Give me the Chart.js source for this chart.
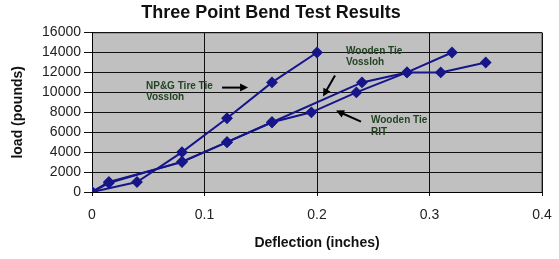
<!DOCTYPE html>
<html>
<head>
<meta charset="utf-8">
<script src="https://cdn.jsdelivr.net/npm/chart.js@4"></script>
<style>
  html, body { margin: 0; padding: 0; background: #fff; }
  #wrap { width: 559px; height: 259px; }
</style>
</head>
<body>
<div id="wrap"><canvas id="bendChart" width="559" height="259"></canvas></div>
<script>
// Datos (deflexión en pulgadas, carga en libras)
const npgDefl = [0, 0.04, 0.08, 0.12, 0.16, 0.2];
const npgLoad = [0, 1000, 4000, 7400, 11000, 14000];

const woodVosDefl = [0, 0.015, 0.08, 0.12, 0.16, 0.24, 0.28, 0.31, 0.35];
const woodVosLoad = [0, 1000, 3000, 5000, 7000, 11000, 12000, 12000, 13000];

const woodRitDefl = [0, 0.015, 0.08, 0.12, 0.16, 0.195, 0.235, 0.28, 0.32];
const woodRitLoad = [0, 900, 3050, 5000, 7000, 8000, 10000, 12000, 14000];

const xTicks = [0, 0.1, 0.2, 0.3, 0.4];
const yTicks = [0, 2000, 4000, 6000, 8000, 10000, 12000, 14000, 16000];

// Etiquetas con flecha (en unidades de los ejes)
const notes = [
  { lines: ["NP&G Tire Tie", "Vossloh"], x: 0.048, y: [10600, 9480], from: [0.1156, 10480], to: [0.1387, 10480] },
  { lines: ["Wooden Tie", "Vossloh"], x: 0.2258, y: [14090, 12990], from: [0.216, 11685], to: [0.2053, 9580] },
  { lines: ["Wooden Tie", "RIT"], x: 0.248, y: [7170, 5970], from: [0.2391, 7070], to: [0.2169, 8170] },
];

const toPoints = (xs, ys) => xs.map((x, i) => ({ x: x, y: ys[i] }));
const navy = "#16168a";

const serie = (label, xs, ys) => ({
  label: label,
  data: toPoints(xs, ys),
  showLine: true,
  borderColor: navy,
  backgroundColor: navy,
  borderWidth: 2,
  pointStyle: "rectRot",
  pointRadius: 4.5,
  pointHoverRadius: 4.5,
  tension: 0,
});

// Fondo gris del área de trazado
const plotBg = {
  id: "plotBg",
  beforeDraw(chart) {
    const { ctx, chartArea: a } = chart;
    ctx.save();
    ctx.fillStyle = "#c0c0c0";
    ctx.fillRect(a.left, a.top, a.right - a.left, a.bottom - a.top);
    ctx.strokeStyle = "#808080";
    ctx.lineWidth = 1;
    ctx.beginPath();
    ctx.moveTo(a.left, a.top + 0.5);
    ctx.lineTo(a.right - 0.5, a.top + 0.5);
    ctx.lineTo(a.right - 0.5, a.bottom);
    ctx.stroke();
    ctx.restore();
  },
};

// Textos y flechas
const arrowNotes = {
  id: "arrowNotes",
  afterDatasetsDraw(chart) {
    const { ctx } = chart;
    const sx = chart.scales.x, sy = chart.scales.y;
    ctx.save();
    ctx.font = "bold 10px Arial, 'Liberation Sans', sans-serif";
    ctx.textBaseline = "middle";
    ctx.textAlign = "left";
    notes.forEach((n) => {
      ctx.fillStyle = "#234423";
      const tx = sx.getPixelForValue(n.x);
      n.lines.forEach((t, i) => ctx.fillText(t, tx, sy.getPixelForValue(n.y[i])));
      const x1 = sx.getPixelForValue(n.from[0]), y1 = sy.getPixelForValue(n.from[1]);
      const x2 = sx.getPixelForValue(n.to[0]), y2 = sy.getPixelForValue(n.to[1]);
      const ang = Math.atan2(y2 - y1, x2 - x1);
      ctx.strokeStyle = "#000";
      ctx.lineWidth = 2;
      ctx.beginPath();
      ctx.moveTo(x1, y1);
      ctx.lineTo(x2 - 6 * Math.cos(ang), y2 - 6 * Math.sin(ang));
      ctx.stroke();
      ctx.fillStyle = "#000";
      ctx.beginPath();
      ctx.moveTo(x2, y2);
      ctx.lineTo(x2 - 8 * Math.cos(ang) + 4 * Math.sin(ang), y2 - 8 * Math.sin(ang) - 4 * Math.cos(ang));
      ctx.lineTo(x2 - 8 * Math.cos(ang) - 4 * Math.sin(ang), y2 - 8 * Math.sin(ang) + 4 * Math.cos(ang));
      ctx.closePath();
      ctx.fill();
    });
    ctx.restore();
  },
};

const fontFam = "Arial, 'Liberation Sans', sans-serif";

const ctxBend = document.getElementById("bendChart").getContext("2d");
const bendChart = new Chart(ctxBend, {
  type: "scatter",
  data: {
    datasets: [
      serie("NP&G Tire Tie Vossloh", npgDefl, npgLoad),
      serie("Wooden Tie Vossloh", woodVosDefl, woodVosLoad),
      serie("Wooden Tie RIT", woodRitDefl, woodRitLoad),
    ],
  },
  options: {
    responsive: false,
    animation: false,
    layout: { padding: { left: 0, right: 17, top: 0, bottom: 0 } },
    scales: {
      x: {
        type: "linear",
        min: 0,
        max: 0.4,
        afterBuildTicks: (s) => { s.ticks = xTicks.map((v) => ({ value: v })); },
        afterFit: (s) => {
          s.height = 67;
          s.paddingLeft = 0;
          s.paddingRight = 0;
        },
        ticks: {
          color: "#222",
          font: { family: fontFam, size: 14 },
          padding: 11,
          maxRotation: 0,
          callback: (v) => String(v),
        },
        grid: { color: "#111", lineWidth: 1, tickLength: 4, drawTicks: true },
        border: { color: "#000", width: 1 },
        title: {
          display: true,
          text: "Deflection (inches)",
          color: "#111",
          font: { family: fontFam, size: 14, weight: "bold" },
          padding: { top: 0, bottom: 7 },
        },
      },
      y: {
        type: "linear",
        min: 0,
        max: 16000,
        afterBuildTicks: (s) => { s.ticks = yTicks.map((v) => ({ value: v })); },
        afterFit: (s) => { s.width = 92; },
        ticks: {
          color: "#222",
          font: { family: fontFam, size: 14 },
          padding: 3,
          callback: (v) => String(v),
        },
        grid: { color: "#111", lineWidth: 1, tickLength: 8 },
        border: { color: "#000", width: 1 },
        title: {
          display: true,
          text: "load (pounds)",
          color: "#111",
          font: { family: fontFam, size: 14, weight: "bold" },
          padding: { top: 10, bottom: 0 },
        },
      },
    },
    plugins: {
      legend: { display: false },
      tooltip: { enabled: false },
      title: {
        display: true,
        text: "Three Point Bend Test Results",
        color: "#111",
        font: { family: fontFam, size: 18, weight: "bold" },
        padding: { top: 2, bottom: 9 },
      },
    },
  },
  plugins: [plotBg, arrowNotes],
});
</script>
</body>
</html>
